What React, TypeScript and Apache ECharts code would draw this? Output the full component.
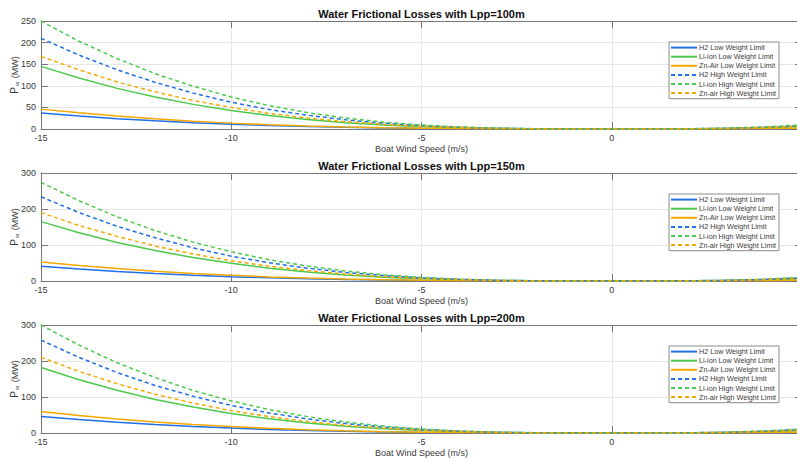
import React, { useEffect, useRef } from "react";
import * as echarts from "echarts";

const SPEED = [-15, -14, -13, -12, -11, -10, -9, -8, -7, -6, -5, -4, -3, -2, -1, 0, 1, 2, 3, 4, 5];

const TITLES = [
  "Water Frictional Losses with Lpp=100m",
  "Water Frictional Losses with Lpp=150m",
  "Water Frictional Losses with Lpp=200m",
];
const X_NAME = "Boat Wind Speed (m/s)";
const Y_NAME = "{p|P}{s|w}{n| (MW)}";
const Y_MAX = [250, 300, 300];
const Y_STEP = [50, 100, 100];

const SERIES_NAMES = [
  "H2 Low Weight Limit",
  "Li-ion Low Weight Limit",
  "Zn-Air Low Weight Limit",
  "H2 High Weight Limit",
  "Li-ion High Weight Limit",
  "Zn-air High Weight Limit",
];

// Lpp = 100 m
const L100_H2_LOW = [37, 30, 24, 19, 14.6, 11, 8, 5.6, 3.8, 2.4, 1.4, 0.7, 0.3, 0.1, 0, 0, 0, 0.1, 0.3, 0.7, 1.4];
const L100_LI_LOW = [145, 118, 94, 74, 57, 43, 31, 22, 14.7, 9.3, 5.4, 2.8, 1.2, 0.3, 0.04, 0, 0.04, 0.3, 1.2, 2.8, 5.4];
const L100_ZN_LOW = [46, 37.4, 30, 23.5, 18, 13.6, 10, 7, 4.7, 2.9, 1.7, 0.9, 0.4, 0.1, 0, 0, 0, 0.1, 0.4, 0.9, 1.7];
const L100_H2_HIGH = [210, 171, 137, 108, 83, 62, 45, 32, 21.3, 13.4, 7.8, 4, 1.7, 0.5, 0.1, 0, 0.1, 0.5, 1.7, 4, 7.8];
const L100_LI_HIGH = [250, 203, 163, 128, 99, 74, 54, 38, 25.4, 16, 9.3, 4.7, 2, 0.6, 0.1, 0, 0.1, 0.6, 2, 4.7, 9.3];
const L100_ZN_HIGH = [168, 137, 109, 86, 66, 50, 36, 25.5, 17, 10.8, 6.2, 3.2, 1.3, 0.4, 0.05, 0, 0.05, 0.4, 1.3, 3.2, 6.2];

// Lpp = 150 m
const L150_H2_LOW = [41, 33.3, 26.7, 21, 16.2, 12.1, 8.9, 6.2, 4.2, 2.6, 1.5, 0.8, 0.33, 0.1, 0.01, 0, 0.01, 0.1, 0.33, 0.8, 1.5];
const L150_LI_LOW = [165, 134, 107, 84.5, 65, 49, 35.6, 25, 16.8, 10.6, 6.1, 3.1, 1.3, 0.4, 0.05, 0, 0.05, 0.4, 1.3, 3.1, 6.1];
const L150_ZN_LOW = [53, 43, 34.5, 27, 21, 15.7, 11.4, 8, 5.4, 3.4, 2, 1, 0.4, 0.13, 0.02, 0, 0.02, 0.13, 0.4, 1, 2];
const L150_H2_HIGH = [234, 190, 152, 120, 92, 69, 50.5, 35.5, 23.8, 15, 8.7, 4.4, 1.9, 0.55, 0.07, 0, 0.07, 0.55, 1.9, 4.4, 8.7];
const L150_LI_HIGH = [274, 223, 178, 140, 108, 81, 59, 41.6, 27.8, 17.5, 10.1, 5.2, 2.2, 0.6, 0.1, 0, 0.1, 0.6, 2.2, 5.2, 10.1];
const L150_ZN_HIGH = [190, 154, 124, 97, 75, 56, 41, 28.8, 19.3, 12.2, 7, 3.6, 1.5, 0.45, 0.06, 0, 0.06, 0.45, 1.5, 3.6, 7];

// Lpp = 200 m
const L200_H2_LOW = [46, 37.4, 30, 23.6, 18.1, 13.6, 9.9, 7, 4.7, 2.9, 1.7, 0.9, 0.37, 0.11, 0.01, 0, 0.01, 0.11, 0.37, 0.9, 1.7];
const L200_LI_LOW = [182, 148, 118.5, 93, 72, 54, 39.3, 27.6, 18.5, 11.6, 6.7, 3.5, 1.5, 0.43, 0.05, 0, 0.05, 0.43, 1.5, 3.5, 6.7];
const L200_ZN_LOW = [60, 48.8, 39, 30.7, 23.7, 17.8, 13, 9.1, 6.1, 3.8, 2.2, 1.1, 0.5, 0.14, 0.02, 0, 0.02, 0.14, 0.5, 1.1, 2.2];
const L200_H2_HIGH = [258, 210, 168, 132, 102, 76.5, 55.7, 39, 26.2, 16.5, 9.6, 4.9, 2.1, 0.6, 0.08, 0, 0.08, 0.6, 2.1, 4.9, 9.6];
const L200_LI_HIGH = [300, 244, 195, 154, 118, 89, 65, 45.5, 30.5, 19.2, 11.1, 5.7, 2.4, 0.7, 0.1, 0, 0.1, 0.7, 2.4, 5.7, 11.1];
const L200_ZN_HIGH = [210, 171, 137, 107.5, 83, 62, 45.4, 31.9, 21.3, 13.4, 7.8, 4, 1.7, 0.5, 0.06, 0, 0.06, 0.5, 1.7, 4, 7.8];

const PANELS = [
  [L100_H2_LOW, L100_LI_LOW, L100_ZN_LOW, L100_H2_HIGH, L100_LI_HIGH, L100_ZN_HIGH],
  [L150_H2_LOW, L150_LI_LOW, L150_ZN_LOW, L150_H2_HIGH, L150_LI_HIGH, L150_ZN_HIGH],
  [L200_H2_LOW, L200_LI_LOW, L200_ZN_LOW, L200_H2_HIGH, L200_LI_HIGH, L200_ZN_HIGH],
];

const BLUE = "#1f6fe6";
const GREEN = "#4cc94c";
const ORANGE = "#f5a800";
const COLORS = [BLUE, GREEN, ORANGE, BLUE, GREEN, ORANGE];
const DASHED = [false, false, false, true, true, true];

const FONT = "Arial, 'Liberation Sans', Helvetica, sans-serif";
const AXIS_COLOR = "#777777";
const LABEL_COLOR = "#3a3a3a";
const GRID_COLOR = "#e6e6e6";

const GRID_TOPS = [21, 173, 325];
const GRID_H = 108;
const GRID_LEFT = 41;
const GRID_RIGHT = -5;

export default function App() {
  const ref = useRef<HTMLDivElement>(null);

  useEffect(() => {
    if (!ref.current) return;
    const chart = echarts.init(ref.current, undefined, { renderer: "svg" });

    const grid: any[] = [];
    const xAxis: any[] = [];
    const yAxis: any[] = [];
    const series: any[] = [];
    const legend: any[] = [];
    const graphic: any[] = [];

    const plotCenterX = GRID_LEFT + (797 - GRID_LEFT - GRID_RIGHT) / 2;

    for (let p = 0; p < 3; p++) {
      grid.push({
        left: GRID_LEFT,
        right: GRID_RIGHT,
        top: GRID_TOPS[p],
        height: GRID_H,
        containLabel: false,
        outerBoundsMode: "none",
      });
    }
    // bottom x axes
    for (let p = 0; p < 3; p++) {
      xAxis.push({
        type: "value",
        gridIndex: p,
        min: -15,
        max: 5,
        interval: 5,
        position: "bottom",
        name: X_NAME,
        nameLocation: "middle",
        nameGap: 15,
        nameMoveOverlap: false,
        nameTextStyle: { fontFamily: FONT, fontSize: 9, color: LABEL_COLOR },
        axisLine: { show: true, onZero: false, lineStyle: { color: AXIS_COLOR, width: 1 } },
        axisTick: { show: true, inside: true, length: 7, lineStyle: { color: AXIS_COLOR } },
        axisLabel: { show: true, showMaxLabel: false, margin: 4, fontFamily: FONT, fontSize: 9, color: LABEL_COLOR },
        splitLine: { show: true, lineStyle: { color: GRID_COLOR, width: 1 } },
      });
    }
    // top x axes (box)
    for (let p = 0; p < 3; p++) {
      xAxis.push({
        type: "value",
        gridIndex: p,
        min: -15,
        max: 5,
        interval: 5,
        position: "top",
        axisLine: { show: true, onZero: false, lineStyle: { color: AXIS_COLOR, width: 1 } },
        axisTick: { show: true, inside: true, length: 7, lineStyle: { color: AXIS_COLOR } },
        axisLabel: { show: false },
        splitLine: { show: false },
      });
    }
    // left y axes
    for (let p = 0; p < 3; p++) {
      yAxis.push({
        type: "value",
        gridIndex: p,
        min: 0,
        max: Y_MAX[p],
        interval: Y_STEP[p],
        position: "left",
        name: Y_NAME,
        nameLocation: "middle",
        nameGap: 21,
        nameMoveOverlap: false,
        nameTextStyle: {
          fontFamily: FONT,
          color: LABEL_COLOR,
          rich: {
            p: { fontFamily: FONT, fontSize: 10, color: LABEL_COLOR },
            s: { fontFamily: FONT, fontSize: 6, color: LABEL_COLOR, verticalAlign: "bottom", padding: [5, 1, 0, 1] },
            n: { fontFamily: FONT, fontSize: 9, color: LABEL_COLOR },
          },
        },
        axisLine: { show: true, onZero: false, lineStyle: { color: AXIS_COLOR, width: 1 } },
        axisTick: { show: true, inside: true, length: 7, lineStyle: { color: AXIS_COLOR } },
        axisLabel: { show: true, margin: 5, fontFamily: FONT, fontSize: 9, color: LABEL_COLOR },
        splitLine: { show: true, lineStyle: { color: GRID_COLOR, width: 1 } },
      });
    }
    // right y axes (box)
    for (let p = 0; p < 3; p++) {
      yAxis.push({
        type: "value",
        gridIndex: p,
        min: 0,
        max: Y_MAX[p],
        interval: Y_STEP[p],
        position: "right",
        axisLine: { show: true, onZero: false, lineStyle: { color: AXIS_COLOR, width: 1 } },
        axisTick: { show: true, inside: true, length: 7, lineStyle: { color: AXIS_COLOR } },
        axisLabel: { show: false },
        splitLine: { show: false },
      });
    }

    for (let p = 0; p < 3; p++) {
      PANELS[p].forEach((vals, k) => {
        series.push({
          type: "line",
          name: SERIES_NAMES[k],
          xAxisIndex: p,
          yAxisIndex: p,
          data: SPEED.map((x, i) => [x, vals[i]]),
          showSymbol: false,
          symbol: "none",
          smooth: false,
          clip: true,
          color: COLORS[k],
          lineStyle: { color: COLORS[k], width: 1.5, type: DASHED[k] ? [4, 3] : "solid" },
          emphasis: { disabled: true },
          z: 2 + k,
        });
      });

      legend.push({
        show: true,
        data: SERIES_NAMES,
        orient: "vertical",
        right: 18,
        top: GRID_TOPS[p] + 21,
        itemWidth: 26,
        itemHeight: 9,
        itemGap: 1.9,
        padding: [2, 3, 2, 1],
        backgroundColor: "#ffffff",
        borderColor: "#8c8c8c",
        borderWidth: 1,
        borderRadius: 0,
        selectedMode: false,
        itemStyle: { opacity: 0 },
        textStyle: { fontFamily: FONT, fontSize: 7.2, color: LABEL_COLOR, padding: [0, 0, 0, -3] },
        z: 10,
      });

      graphic.push({
        type: "text",
        x: plotCenterX,
        y: GRID_TOPS[p] - 7,
        style: {
          text: TITLES[p],
          fill: "#111111",
          font: `bold 11px ${FONT}`,
          textAlign: "center",
          textVerticalAlign: "middle",
        },
      });
    }

    chart.setOption({
      animation: false,
      backgroundColor: "#ffffff",
      grid,
      xAxis,
      yAxis,
      series,
      legend,
      graphic,
    });

    return () => {
      chart.dispose();
    };
  }, []);

  return (
    <div
      ref={ref}
      style={{ position: "fixed", left: 0, top: 0, width: 797, height: 461, background: "#fff" }}
    />
  );
}
